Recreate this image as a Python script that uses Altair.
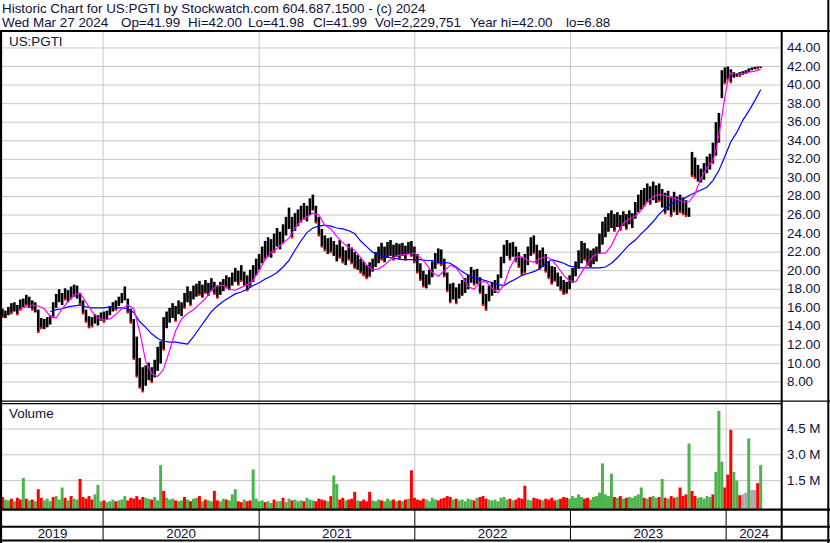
import altair as alt
import numpy as np
import pandas as pd

# ---------------------------------------------------------------- data
START = "2019-05-10"          # first weekly bar (Fridays)

LOWS = [
    15.0, 14.9, 15.2, 15.4, 15.6, 15.3, 15.8, 16.1, 16.3, 16.0,
    15.8, 15.5, 13.4, 13.8, 13.7, 13.9, 14.2, 15.0, 16.0, 16.6,
    16.3, 16.9, 16.6, 17.0, 17.2, 17.0, 16.4, 15.4, 14.5, 13.9,
    14.0, 14.3, 14.1, 14.6, 14.5, 14.8, 15.2, 15.6, 15.8, 16.2,
    16.5, 16.8, 15.5, 14.4, 10.5, 8.6, 7.4, 7.0, 7.6, 8.2,
    8.0, 8.5, 9.2, 10.0, 11.5, 13.8, 14.4, 14.9, 14.6, 15.3,
    15.1, 16.0, 16.6, 16.3, 16.9, 17.2, 17.4, 17.1, 17.6, 17.3,
    17.8, 17.5, 17.1, 17.4, 17.8, 18.2, 17.9, 18.4, 18.8, 18.5,
    18.9, 18.4, 17.9, 18.3, 18.8, 19.5, 20.1, 20.8, 21.3, 21.5,
    21.4, 22.0, 22.6, 22.3, 23.0, 23.8, 24.5, 23.6, 24.3, 24.8,
    25.2, 25.6, 25.3, 26.0, 26.5, 25.2, 23.8, 22.6, 22.2, 21.8,
    22.0, 21.6, 21.0, 21.4, 20.9, 20.6, 21.2, 20.8, 20.3, 20.1,
    19.8, 19.5, 19.2, 19.4, 19.9, 20.4, 20.8, 21.2, 20.9, 21.4,
    21.6, 21.2, 21.5, 21.3, 21.6, 21.2, 21.8, 21.6, 20.9, 19.8,
    19.0, 18.3, 18.1, 18.5, 19.3, 20.2, 20.8, 20.6, 19.4, 17.8,
    16.6, 16.9, 16.5, 17.0, 17.3, 17.6, 18.0, 18.7, 18.5, 18.6,
    17.6, 16.3, 15.8, 16.7, 17.3, 17.6, 17.9, 19.2, 20.8, 21.6,
    21.2, 21.5, 21.0, 20.4, 19.6, 19.8, 20.6, 21.6, 21.9, 20.8,
    20.2, 20.4, 19.9, 19.2, 18.6, 18.9, 18.3, 17.9, 17.5, 17.6,
    18.0, 18.7, 19.4, 20.2, 20.8, 21.2, 20.6, 20.4, 20.7, 21.0,
    21.8, 22.8, 23.6, 24.2, 24.6, 24.3, 24.7, 24.4, 24.8, 24.5,
    25.0, 24.6, 25.6, 26.3, 26.6, 27.0, 27.4, 27.2, 27.6, 27.3,
    27.5, 26.8, 26.2, 26.5, 25.9, 26.4, 26.0, 26.3, 26.1, 25.9,
    25.8, 30.2, 30.0, 29.6, 29.5, 29.8, 30.5, 30.9, 31.6, 32.4,
    33.8, 38.6, 40.2, 40.6, 40.3, 40.8, 40.9, 41.0, 41.1, 41.2,
    41.4, 41.6, 41.7, 41.8, 41.85,
]

HIGHS = [
    15.9, 15.7, 16.1, 16.5, 16.6, 16.3, 16.9, 17.0, 17.4, 17.2,
    16.8, 16.6, 15.8, 14.9, 14.8, 15.0, 15.2, 16.6, 17.5, 18.0,
    17.6, 18.1, 17.9, 18.3, 18.5, 18.4, 17.6, 16.8, 15.8, 15.1,
    15.0, 15.3, 15.2, 15.5, 15.6, 15.7, 16.2, 16.6, 16.8, 17.2,
    17.6, 18.3, 17.0, 15.9, 14.8, 12.9, 10.6, 9.6, 9.8, 10.1,
    9.6, 10.4, 11.8, 12.4, 15.0, 15.6, 16.0, 16.5, 16.2, 16.8,
    16.6, 17.6, 18.3, 17.8, 18.4, 18.6, 18.9, 18.5, 19.0, 18.7,
    19.2, 18.8, 18.4, 18.8, 19.1, 19.5, 19.3, 19.8, 20.3, 20.0,
    20.6, 19.9, 19.5, 20.1, 20.6, 21.3, 21.8, 22.6, 23.2, 23.6,
    23.4, 24.0, 24.6, 24.2, 25.0, 25.8, 26.8, 25.8, 26.2, 26.6,
    27.0, 27.3, 27.0, 27.8, 28.2, 27.0, 25.8, 24.5, 23.8, 23.5,
    23.6, 23.2, 22.8, 23.3, 22.6, 22.2, 22.9, 22.5, 22.0, 21.7,
    21.3, 21.0, 20.6, 20.9, 21.3, 22.0, 22.6, 23.0, 22.6, 23.1,
    23.3, 22.8, 23.0, 22.9, 23.0, 22.7, 23.1, 23.2, 22.6, 21.8,
    20.8, 20.0, 19.6, 20.1, 21.0, 21.9, 22.4, 22.3, 21.3, 19.8,
    18.6, 18.7, 18.2, 18.6, 19.0, 19.2, 19.6, 20.4, 20.1, 20.2,
    19.3, 18.4, 17.5, 18.4, 18.8, 19.0, 19.6, 21.5, 22.8, 23.3,
    23.0, 23.1, 22.6, 22.0, 21.4, 21.8, 22.6, 23.6, 23.8, 22.8,
    22.2, 22.5, 21.8, 21.0, 20.5, 20.4, 19.8, 19.4, 19.0, 18.8,
    19.5, 20.3, 21.0, 22.2, 23.2, 23.0, 22.4, 22.2, 22.4, 22.6,
    24.0, 25.3, 25.8, 26.2, 26.5, 26.1, 26.3, 26.0, 26.4, 26.1,
    26.5, 26.2, 27.4, 28.2, 28.7, 28.9, 29.4, 29.1, 29.6, 29.2,
    29.4, 28.8, 28.4, 28.6, 28.0, 28.5, 28.0, 28.2, 27.9, 27.6,
    26.8, 32.8, 32.2, 31.4, 31.0, 31.6, 32.3, 32.6, 33.8, 36.0,
    37.0, 41.6, 41.9, 42.0, 41.7, 41.4, 41.3, 41.4, 41.5, 41.6,
    41.8, 41.9, 41.95, 42.0, 42.0,
]

# typical daily volume for each week, in millions of shares
VOLUME = [
    0.55, 0.4, 0.35, 0.45, 0.3, 0.5, 0.4, 1.65, 0.45, 0.35,
    0.4, 0.3, 1.0, 0.5, 0.35, 0.45, 0.3, 0.55, 0.6, 0.4,
    1.1, 0.5, 0.35, 0.6, 0.45, 0.4, 1.6, 0.55, 0.45, 0.6,
    0.4, 0.7, 1.25, 0.3, 0.35, 0.25, 0.3, 0.4, 0.3, 0.35,
    0.4, 0.6, 0.35, 0.5, 0.45, 0.6, 0.4, 0.55, 0.5, 0.45,
    0.4, 0.55, 0.35, 2.4, 0.9, 0.5, 0.4, 0.45, 0.35, 0.3,
    0.35, 0.55, 0.4, 0.3, 0.45, 0.5, 0.6, 0.3, 0.4, 0.35,
    0.3, 0.9, 0.35, 0.3, 0.45, 0.4, 0.35, 0.7, 1.0, 0.3,
    0.25, 0.4, 0.3, 0.35, 2.15, 0.45, 0.3, 0.35, 0.25, 0.3,
    0.2, 0.4, 0.3, 0.3, 0.5, 0.25, 0.45, 0.35, 0.4, 0.3,
    0.35, 0.3, 0.5, 0.4, 0.35, 0.3, 0.45, 0.4, 0.35, 0.3,
    0.6, 1.8, 1.3, 0.4, 0.5, 0.35, 0.4, 0.45, 0.85, 0.35,
    0.3, 0.4, 0.3, 0.85, 0.35, 0.3, 0.4, 0.35, 0.3, 0.45,
    0.35, 0.4, 0.3, 0.35, 0.3, 0.4, 0.45, 2.1, 0.5, 0.4,
    0.35, 0.45, 0.4, 0.3, 0.5, 0.4, 0.35, 0.45, 0.5, 0.6,
    0.55, 0.4, 0.45, 0.35, 0.4, 0.3, 0.45, 0.4, 0.35, 0.5,
    0.55, 0.6, 0.45, 0.4, 0.35, 0.4, 0.3, 0.5, 0.55, 0.4,
    0.45, 0.35, 0.4, 0.5, 0.45, 1.2, 0.4, 0.35, 0.5, 0.45,
    0.4, 0.35, 0.45, 0.4, 0.5, 0.35, 0.4, 0.45, 0.55, 0.5,
    0.45, 0.6, 0.5, 0.7, 0.55, 0.45, 0.5, 0.4, 0.55, 0.6,
    0.8, 2.5, 0.7, 0.6, 1.9, 0.55, 0.5, 0.6, 0.45, 0.5,
    0.55, 0.5, 0.6, 0.7, 1.1, 0.5, 0.45, 0.55, 0.6, 0.5,
    0.55, 1.6, 0.5, 0.45, 0.6, 0.5, 0.55, 1.1, 0.6, 0.7,
    3.65, 0.9, 0.6, 0.5, 0.55, 0.45, 0.6, 0.55, 0.7, 2.0,
    5.55, 2.6, 1.1, 1.85, 4.45, 2.0, 1.5, 0.65, 0.7, 0.8,
    3.95, 0.95, 0.95, 1.35, 2.4,
]

# g = up, r = down, n = unchanged
DIRECTION = (
    "rggrgrrgrg" "rgrrgggrgg" "grgrggrrrr" "rgggrgggrg" "ggrrrrrrgg"
    "rgggrgggrg" "grgrggrgrg" "grrggrgggr" "rgrrggggrg" "grggrggrgg"
    "grgggrrrrg" "rggrrgrrrg" "rrrrgggrgg" "grgrgrgrrr" "rrggggrrrr"
    "rgrgggggrg" "rrrggggggg" "rgrrrrggrr" "rgrrrrgrrr" "gggggrrggg"
    "gggggrgrgr" "gggggrgrgg" "rgrgrrgrrr" "grrgggggrg" "ggrrrggrnn"
    "gnnrg"
)

# moving averages, sampled on the weekly grid (offsets in weeks from START)
FAST_WEEKS = list(range(6, 239, 2)) + [239, 240, 241, 242, 243, 244, 246, 248, 250, 252, 254]
FAST_MA = [
    15.9, 16.1, 16.3, 16.2, 15.9, 15.1, 14.9, 15.9, 16.7, 17.4,
    17.6, 16.6, 15.6, 14.9, 14.7, 14.8, 15.3, 15.9, 16.3, 15.9,
    13.4, 10.2, 8.9, 8.6, 9.4, 11.4, 13.5, 14.8, 15.4, 15.8,
    16.4, 17.0, 17.9, 18.4, 18.4, 18.0, 17.9, 18.2, 18.5, 19.0,
    20.0, 21.2, 22.0, 22.4, 23.0, 23.5, 24.6, 25.4, 25.8, 26.2,
    26.0, 24.9, 24.5, 23.7, 23.0, 22.5, 22.2, 21.4, 20.6, 20.1,
    20.2, 20.6, 21.2, 21.6, 21.7, 21.8, 21.9, 21.4, 20.7, 19.8,
    19.4, 20.0, 20.6, 20.3, 19.4, 18.3, 18.0, 18.8, 18.8, 18.1,
    17.6, 18.5, 20.3, 21.5, 21.5, 21.1, 20.9, 21.3, 21.5, 21.2,
    20.4, 19.5, 18.9, 18.8, 19.8, 20.8, 21.6, 21.9, 21.9, 22.7,
    24.1, 25.1, 25.6, 25.9, 26.5, 27.4, 28.0, 28.2, 28.1, 27.9,
    27.7, 27.4, 27.4, 28.3, 30.0, 31.1, 31.9,
    33.0, 34.6, 36.6, 38.7, 40.5, 41.3, 41.2, 41.2, 41.4, 41.5, 41.7,
]

SLOW_WEEKS = list(range(16, 255, 2))
SLOW_MA = [
    15.6, 15.8, 15.9, 16.1, 16.2, 16.3, 16.1, 16.0, 16.0, 16.0,
    16.1, 16.0, 16.0, 15.9, 15.5, 14.5, 13.9, 13.2, 12.7, 12.4,
    12.3, 12.3, 12.2, 12.1, 12.9, 13.8, 14.7, 15.6, 16.2, 16.7,
    17.1, 17.5, 17.7, 18.0, 18.4, 18.7, 19.1, 19.4, 19.8, 20.4,
    21.1, 22.2, 23.2, 24.1, 24.6, 24.8, 24.9, 24.8, 24.6, 24.5,
    24.3, 24.0, 23.2, 22.6, 22.0, 21.7, 21.5, 21.4, 21.3, 21.2,
    21.2, 21.2, 21.2, 21.1, 21.1, 20.9, 20.9, 20.8, 20.4, 19.9,
    19.5, 19.2, 19.1, 18.9, 18.7, 18.5, 18.4, 18.8, 19.1, 19.5,
    19.7, 19.9, 20.2, 20.8, 21.2, 21.0, 20.8, 20.5, 20.4, 20.3,
    20.3, 20.3, 20.3, 20.4, 20.8, 21.4, 22.1, 22.8, 23.3, 24.0,
    24.6, 25.3, 26.1, 26.7, 27.2, 27.4, 27.7, 28.1, 28.4, 28.7,
    29.0, 29.7, 30.8, 32.3, 33.9, 34.9, 36.2, 37.2, 38.3, 39.5,
]

PRICE_TICKS = list(range(8, 46, 2))
VOLUME_TICKS = [1.5, 3.0, 4.5]
YEARS = [2019, 2020, 2021, 2022, 2023, 2024]

HEADER_1 = "Historic Chart for US:PGTI by Stockwatch.com 604.687.1500 - (c) 2024"
HEADER_2 = [
    (2, "Wed Mar 27 2024"), (121, "Op=41.99"), (188, "Hi=42.00"),
    (248, "Lo=41.98"), (313, "Cl=41.99"), (375, "Vol=2,229,751"),
    (470, "Year hi=42.00"), (566, "lo=6.88"),
]

# ---------------------------------------------------------------- styling
FONT = "Arial, Liberation Sans, sans-serif"
FS = 13.4
INK = "#10103c"
GRID = "#c8c8c8"
GREEN, RED, GREY = "#4db34d", "#ff0000", "#a8a8a8"

X_MIN = pd.Timestamp("2019-05-09")
X_MAX = pd.Timestamp("2024-05-11")
PRICE_MIN, PRICE_MAX = 5.96, 45.72
VOL_MIN, VOL_MAX = -0.15, 5.95

X_SCALE = alt.Scale(
    domain=[alt.DateTime(year=2019, month=5, date=9), alt.DateTime(year=2024, month=5, date=11)],
    range=[2, 782],
)
P_SCALE = alt.Scale(domain=[PRICE_MIN, PRICE_MAX], range=[401, 32], nice=False, zero=False)
V_SCALE = alt.Scale(domain=[VOL_MIN, VOL_MAX], range=[509, 404], nice=False, zero=False)


def xt(field):
    return alt.X(field, type="temporal", scale=X_SCALE, axis=None)


def yp(field):
    return alt.Y(field, type="quantitative", scale=P_SCALE, axis=None)


def yv(field):
    return alt.Y(field, type="quantitative", scale=V_SCALE, axis=None)


# ---------------------------------------------------------------- frames
dates = pd.date_range(START, periods=len(LOWS), freq="7D")
weekly = pd.DataFrame({
    "date": dates, "low": LOWS, "high": HIGHS, "vol": VOLUME,
    "dir": list(DIRECTION), "base": VOL_MIN,
})
down = weekly[weekly["dir"] == "r"]

start = pd.Timestamp(START)
fast = pd.DataFrame({"date": [start + pd.Timedelta(days=7 * w) for w in FAST_WEEKS], "ma": FAST_MA})
slow = pd.DataFrame({"date": [start + pd.Timedelta(days=7 * w) for w in SLOW_WEEKS], "ma": SLOW_MA})

price_grid = pd.DataFrame({"v": PRICE_TICKS, "x0": X_MIN, "x1": X_MAX,
                           "label": [f"{t:.2f}" for t in PRICE_TICKS]})
vol_grid = pd.DataFrame({"v": VOLUME_TICKS, "x0": X_MIN, "x1": X_MAX,
                         "label": [f"{t:.1f} M" for t in VOLUME_TICKS]})

year_starts = [pd.Timestamp(f"{y}-01-01") for y in YEARS[1:]]
year_lines = pd.DataFrame({"date": year_starts, "p0": PRICE_MIN, "p1": PRICE_MAX,
                           "v0": VOL_MIN, "v1": VOL_MAX})
year_mid = []
for y in YEARS:
    a = max(pd.Timestamp(f"{y}-01-01"), X_MIN)
    b = min(pd.Timestamp(f"{y + 1}-01-01"), X_MAX)
    year_mid.append(a + (b - a) / 2)
year_labels = pd.DataFrame({"date": year_mid, "label": [str(y) for y in YEARS]})

# ---------------------------------------------------------------- layers
layers = []

# grid
layers.append(alt.Chart(price_grid).mark_rule(color=GRID, strokeWidth=1).encode(
    x=xt("x0"), x2="x1", y=yp("v")))
layers.append(alt.Chart(vol_grid).mark_rule(color=GRID, strokeWidth=1).encode(
    x=xt("x0"), x2="x1", y=yv("v")))
layers.append(alt.Chart(year_lines).mark_rule(color=GRID, strokeWidth=1).encode(
    x=xt("date"), y=yp("p0"), y2="p1"))
layers.append(alt.Chart(year_lines).mark_rule(color=GRID, strokeWidth=1).encode(
    x=xt("date"), y=yv("v0"), y2="v1"))

# volume
layers.append(alt.Chart(weekly).mark_rule(strokeWidth=3).encode(
    x=xt("date"), y=yv("vol"), y2="base",
    color=alt.Color("dir:N", scale=alt.Scale(domain=["g", "r", "n"], range=[GREEN, RED, GREY]),
                    legend=None)))

# price bars
layers.append(alt.Chart(weekly).mark_rule(color="black", strokeWidth=2.6).encode(
    x=xt("date"), y=yp("low"), y2="high"))
layers.append(alt.Chart(down).mark_point(shape="square", filled=True, size=5, color=RED, opacity=1).encode(
    x=xt("date"), y=yp("low")))

# moving averages
layers.append(alt.Chart(slow).mark_line(color="#0000ff", strokeWidth=1.2).encode(
    x=xt("date"), y=yp("ma")))
layers.append(alt.Chart(fast).mark_line(color="#ff00ff", strokeWidth=1.2).encode(
    x=xt("date"), y=yp("ma")))

# axis labels on the right
layers.append(alt.Chart(price_grid).mark_text(align="left", baseline="middle", font=FONT,
                                              fontSize=FS, color=INK).encode(
    x=alt.value(787), y=yp("v"), text="label"))
layers.append(alt.Chart(vol_grid).mark_text(align="left", baseline="middle", font=FONT,
                                            fontSize=FS, color=INK).encode(
    x=alt.value(787), y=yv("v"), text="label"))

# year band
layers.append(alt.Chart(year_lines).mark_rule(color="black", strokeWidth=1).encode(
    x=xt("date"), y=alt.value(510), y2=alt.value(541)))
layers.append(alt.Chart(year_labels).mark_text(align="center", baseline="middle", font=FONT,
                                               fontSize=FS, color=INK).encode(
    x=xt("date"), y=alt.value(534), text="label"))


# frame lines
def hline(y, x0, x1, w):
    return alt.Chart(pd.DataFrame({"k": [0]})).mark_rule(color="black", strokeWidth=w).encode(
        x=alt.value(x0), x2=alt.value(x1), y=alt.value(y))


def vline(x, y0, y1, w):
    return alt.Chart(pd.DataFrame({"k": [0]})).mark_rule(color="black", strokeWidth=w).encode(
        x=alt.value(x), y=alt.value(y0), y2=alt.value(y1))


layers += [
    hline(31, 0, 830, 2),
    hline(401.2, 0, 830, 1.2),
    hline(403.6, 0, 782, 1.2),
    hline(509.6, 0, 830, 2.4),
    hline(526.8, 0, 830, 2),
    hline(540.6, 0, 830, 2),
    vline(1, 31, 543, 2.2),
    vline(781.7, 31, 541, 2),
    vline(828.3, 0, 543, 2),
]


def label(x, y, text):
    return alt.Chart(pd.DataFrame({"t": [text]})).mark_text(
        align="left", baseline="alphabetic", font=FONT, fontSize=FS, color=INK).encode(
        x=alt.value(x), y=alt.value(y), text="t:N")


layers.append(label(2, 13, HEADER_1))
layers += [label(x, 27, t) for x, t in HEADER_2]
layers.append(label(9, 46, "US:PGTI"))
layers.append(label(9, 418, "Volume"))

chart = alt.layer(*layers).resolve_scale(y="independent").properties(
    width=830, height=543, autosize=alt.AutoSizeParams(type="none"), padding=0,
    background="white",
).configure_view(stroke=None)

chart.save("out.html", embed_options={"renderer": "svg", "actions": False})
